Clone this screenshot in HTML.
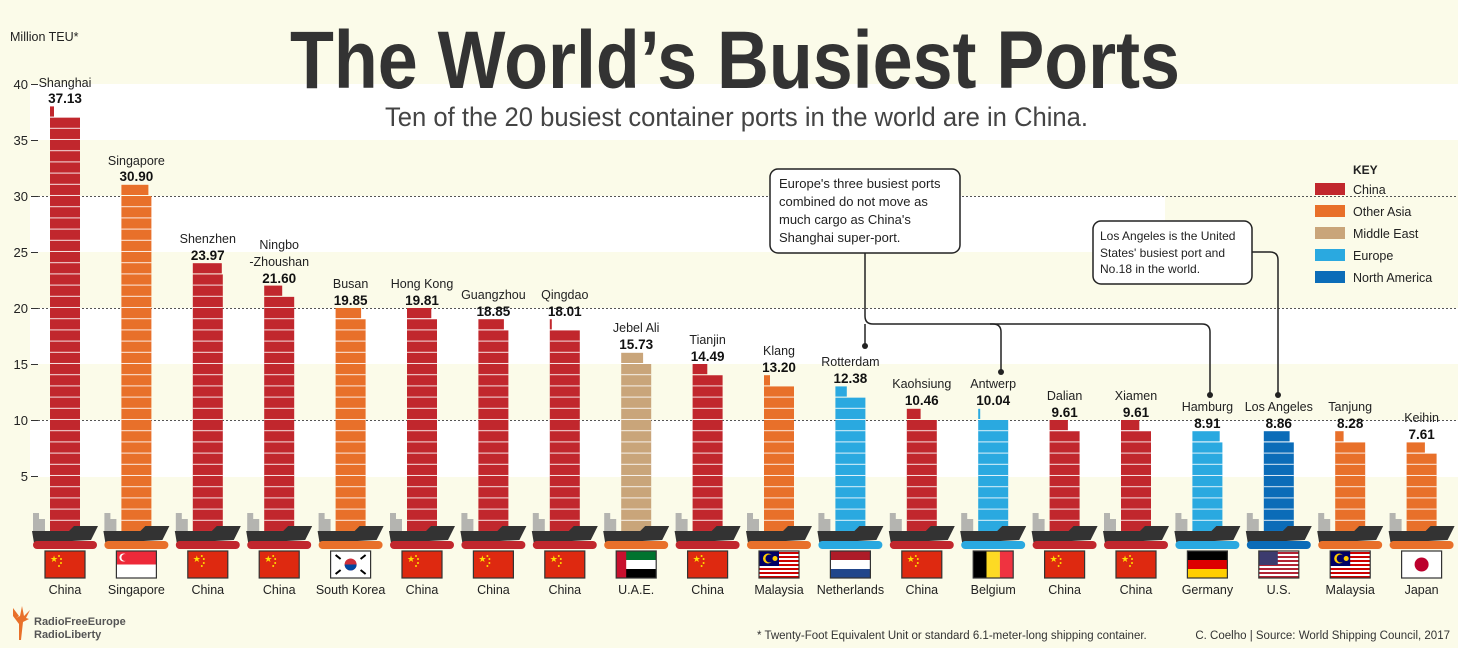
<!DOCTYPE html>
<html><head><meta charset="utf-8"><style>
html,body{margin:0;padding:0;background:#fbfbe9;}
svg{display:block;font-family:"Liberation Sans",sans-serif;}
</style></head><body>
<svg width="1458" height="648" viewBox="0 0 1458 648" xmlns="http://www.w3.org/2000/svg">
<defs>
<pattern id="st" patternUnits="userSpaceOnUse" width="40" height="11.2" y="532">
<rect x="0" y="10.2" width="40" height="1.2" fill="#fff" opacity="0.85"/>
</pattern>
<clipPath id="bc">
<rect x="50" y="117.6" width="30" height="414.4"/>
<rect x="121.4" y="196" width="30" height="336"/>
<rect x="192.8" y="274.4" width="30" height="257.6"/>
<rect x="264.2" y="296.8" width="30" height="235.2"/>
<rect x="335.6" y="319.2" width="30" height="212.8"/>
<rect x="407" y="319.2" width="30" height="212.8"/>
<rect x="478.4" y="330.4" width="30" height="201.6"/>
<rect x="549.8" y="330.4" width="30" height="201.6"/>
<rect x="621.2" y="364" width="30" height="168"/>
<rect x="692.6" y="375.2" width="30" height="156.8"/>
<rect x="764" y="386.4" width="30" height="145.6"/>
<rect x="835.4" y="397.6" width="30" height="134.4"/>
<rect x="906.8" y="420" width="30" height="112"/>
<rect x="978.2" y="420" width="30" height="112"/>
<rect x="1049.6" y="431.2" width="30" height="100.8"/>
<rect x="1121" y="431.2" width="30" height="100.8"/>
<rect x="1192.4" y="442.4" width="30" height="89.6"/>
<rect x="1263.8" y="442.4" width="30" height="89.6"/>
<rect x="1335.2" y="442.4" width="30" height="89.6"/>
<rect x="1406.6" y="453.6" width="30" height="78.4"/>
</clipPath>
<g id="ship">
<path d="M-32,513 h6 v6 h6 v13 h-12z" fill="#b4b4b0"/>
<path d="M-33,531 L4,531 L9,526 L33,526 L26,540 L-31,543 Z" fill="#333"/>
</g>
<g id="cn"><rect x="-20" y="551" width="40" height="27" fill="#de2910" stroke="#333" stroke-width="1.2"/><text x="-15" y="562" font-size="9" fill="#ffde00">★</text><circle cx="-6" cy="556" r="1" fill="#ffde00"/><circle cx="-4" cy="559" r="1" fill="#ffde00"/><circle cx="-4" cy="563" r="1" fill="#ffde00"/><circle cx="-6" cy="566" r="1" fill="#ffde00"/></g>
<g id="sg"><rect x="-20" y="551" width="40" height="13.5" fill="#ed2939"/><rect x="-20" y="564.5" width="40" height="13.5" fill="#fff"/><circle cx="-13" cy="557.5" r="4" fill="#fff"/><circle cx="-11.5" cy="557.5" r="3.5" fill="#ed2939"/><rect x="-20" y="551" width="40" height="27" fill="none" stroke="#333" stroke-width="1.2"/></g>
<g id="kr"><rect x="-20" y="551" width="40" height="27" fill="#fff" stroke="#333" stroke-width="1.2"/><circle cx="0" cy="564.5" r="6" fill="#cd2e3a"/><path d="M-6,564.5 a6,6 0 0 0 12,0z" fill="#0047a0"/><path d="M-15,555 l5,4 M-15,574 l5,-4 M15,555 l-5,4 M15,574 l-5,-4" stroke="#000" stroke-width="2"/></g>
<g id="ae"><rect x="-20" y="551" width="40" height="9" fill="#00732f"/><rect x="-20" y="560" width="40" height="9" fill="#fff"/><rect x="-20" y="569" width="40" height="9" fill="#000"/><rect x="-20" y="551" width="10" height="27" fill="#c8102e"/><rect x="-20" y="551" width="40" height="27" fill="none" stroke="#333" stroke-width="1.2"/></g>
<g id="my"><rect x="-20" y="551" width="40" height="27" fill="#fff"/><path d="M-20,553 h40 M-20,557 h40 M-20,561 h40 M-20,565 h40 M-20,569 h40 M-20,573 h40 M-20,577 h40" stroke="#cc0001" stroke-width="2"/><rect x="-20" y="551" width="20" height="15" fill="#010066"/><circle cx="-11" cy="558.5" r="5" fill="#fc0"/><circle cx="-9.5" cy="558.5" r="4" fill="#010066"/><circle cx="-4" cy="558.5" r="2.5" fill="#fc0"/><rect x="-20" y="551" width="40" height="27" fill="none" stroke="#333" stroke-width="1.2"/></g>
<g id="nl"><rect x="-20" y="551" width="40" height="9" fill="#ae1c28"/><rect x="-20" y="560" width="40" height="9" fill="#fff"/><rect x="-20" y="569" width="40" height="9" fill="#21468b"/><rect x="-20" y="551" width="40" height="27" fill="none" stroke="#333" stroke-width="1.2"/></g>
<g id="be"><rect x="-20" y="551" width="13.3" height="27" fill="#000"/><rect x="-6.7" y="551" width="13.4" height="27" fill="#fdda24"/><rect x="6.7" y="551" width="13.3" height="27" fill="#ef3340"/><rect x="-20" y="551" width="40" height="27" fill="none" stroke="#333" stroke-width="1.2"/></g>
<g id="de"><rect x="-20" y="551" width="40" height="9" fill="#000"/><rect x="-20" y="560" width="40" height="9" fill="#dd0000"/><rect x="-20" y="569" width="40" height="9" fill="#ffce00"/><rect x="-20" y="551" width="40" height="27" fill="none" stroke="#333" stroke-width="1.2"/></g>
<g id="us"><rect x="-20" y="551" width="40" height="27" fill="#fff"/><path d="M-20,553 h40 M-20,557 h40 M-20,561 h40 M-20,565 h40 M-20,569 h40 M-20,573 h40 M-20,577 h40" stroke="#b22234" stroke-width="2"/><rect x="-20" y="551" width="19" height="14" fill="#3c3b6e"/><rect x="-20" y="551" width="40" height="27" fill="none" stroke="#333" stroke-width="1.2"/></g>
<g id="jp"><rect x="-20" y="551" width="40" height="27" fill="#fff" stroke="#333" stroke-width="1.2"/><circle cx="0" cy="564.5" r="7" fill="#bc002d"/></g>
</defs>

<rect x="0" y="0" width="1458" height="648" fill="#fbfbe9"/>
<rect x="30" y="84" width="1428" height="56" fill="#fff"/>
<rect x="30" y="196" width="1135" height="56" fill="#fff"/>
<rect x="30" y="308" width="1428" height="56" fill="#fff"/>
<rect x="30" y="420" width="1428" height="57" fill="#fff"/>

<text x="290" y="88" font-size="82" font-weight="bold" fill="#333" textLength="890" lengthAdjust="spacingAndGlyphs">The World’s Busiest Ports</text>
<text x="385" y="126" font-size="27" fill="#444" textLength="703" lengthAdjust="spacingAndGlyphs">Ten of the 20 busiest container ports in the world are in China.</text>
<text x="10" y="41" font-size="12.5" fill="#222">Million TEU*</text>

<g font-size="13" fill="#222" text-anchor="end">
<text x="28" y="89">40</text><text x="28" y="145">35</text><text x="28" y="201">30</text><text x="28" y="257">25</text>
<text x="28" y="313">20</text><text x="28" y="369">15</text><text x="28" y="425">10</text><text x="28" y="481">5</text>
</g>
<g stroke="#333" stroke-width="1">
<path d="M31,84.5h7 M31,140.5h7 M31,196.5h7 M31,252.5h7 M31,308.5h7 M31,364.5h7 M31,420.5h7 M31,476.5h7"/>
</g>
<g stroke="#555" stroke-width="1" stroke-dasharray="2,2">
<path d="M38,196.5H1458 M38,308.5H1458 M38,420.5H1458"/>
</g>

<g fill="none" stroke="#222" stroke-width="1.5">
<path d="M865,253 V316 q0,8 8,8 H993 q8,0 8,8 V372"/>
<path d="M990,324 H1202 q8,0 8,8 V395"/>
<path d="M865,324 V346"/>
<path d="M1252,252 H1270 q8,0 8,8 V395"/>
</g>
<g fill="#222"><circle cx="865" cy="346" r="3"/><circle cx="1001" cy="372" r="3"/><circle cx="1210" cy="395" r="3"/><circle cx="1278" cy="395" r="3"/></g>
<rect x="770" y="169" width="190" height="84" rx="8" fill="#fff" stroke="#222" stroke-width="1.5"/>
<g font-size="13" fill="#222"><text x="779" y="188">Europe's three busiest ports</text><text x="779" y="206">combined do not move as</text><text x="779" y="224">much cargo as China's</text><text x="779" y="242">Shanghai super-port.</text></g>
<rect x="1093" y="221" width="159" height="63" rx="8" fill="#fff" stroke="#222" stroke-width="1.5"/>
<g font-size="12" fill="#222"><text x="1100" y="240">Los Angeles is the United</text><text x="1100" y="257">States' busiest port and</text><text x="1100" y="273">No.18 in the world.</text></g>

<text x="1353" y="174" font-size="12" font-weight="bold" fill="#222">KEY</text>
<g font-size="12.5" fill="#222">
<rect x="1315" y="183" width="30" height="12" fill="#c1272d"/><text x="1353" y="194">China</text>
<rect x="1315" y="205" width="30" height="12" fill="#e8702a"/><text x="1353" y="216">Other Asia</text>
<rect x="1315" y="227" width="30" height="12" fill="#c9a57a"/><text x="1353" y="238">Middle East</text>
<rect x="1315" y="249" width="30" height="12" fill="#2aa9e0"/><text x="1353" y="260">Europe</text>
<rect x="1315" y="271" width="30" height="12" fill="#0b6cb8"/><text x="1353" y="282">North America</text>
</g>

<g>
<rect x="50" y="117.6" width="30" height="414.4" fill="#c1272d"/><rect x="50" y="106.4" width="4" height="10.2" fill="#c1272d"/>
<rect x="121.4" y="196" width="30" height="336" fill="#e8702a"/><rect x="121.4" y="184.8" width="27" height="10.2" fill="#e8702a"/>
<rect x="192.8" y="274.4" width="30" height="257.6" fill="#c1272d"/><rect x="192.8" y="263.2" width="29" height="10.2" fill="#c1272d"/>
<rect x="264.2" y="296.8" width="30" height="235.2" fill="#c1272d"/><rect x="264.2" y="285.6" width="18" height="10.2" fill="#c1272d"/>
<rect x="335.6" y="319.2" width="30" height="212.8" fill="#e8702a"/><rect x="335.6" y="308" width="25.5" height="10.2" fill="#e8702a"/>
<rect x="407" y="319.2" width="30" height="212.8" fill="#c1272d"/><rect x="407" y="308" width="24.3" height="10.2" fill="#c1272d"/>
<rect x="478.4" y="330.4" width="30" height="201.6" fill="#c1272d"/><rect x="478.4" y="319.2" width="25.5" height="10.2" fill="#c1272d"/>
<rect x="549.8" y="330.4" width="30" height="201.6" fill="#c1272d"/><rect x="549.8" y="319.2" width="2" height="10.2" fill="#c1272d"/>
<rect x="621.2" y="364" width="30" height="168" fill="#c9a57a"/><rect x="621.2" y="352.8" width="21.9" height="10.2" fill="#c9a57a"/>
<rect x="692.6" y="375.2" width="30" height="156.8" fill="#c1272d"/><rect x="692.6" y="364" width="14.7" height="10.2" fill="#c1272d"/>
<rect x="764" y="386.4" width="30" height="145.6" fill="#e8702a"/><rect x="764" y="375.2" width="6" height="10.2" fill="#e8702a"/>
<rect x="835.4" y="397.6" width="30" height="134.4" fill="#2aa9e0"/><rect x="835.4" y="386.4" width="11.4" height="10.2" fill="#2aa9e0"/>
<rect x="906.8" y="420" width="30" height="112" fill="#c1272d"/><rect x="906.8" y="408.8" width="13.8" height="10.2" fill="#c1272d"/>
<rect x="978.2" y="420" width="30" height="112" fill="#2aa9e0"/><rect x="978.2" y="408.8" width="2" height="10.2" fill="#2aa9e0"/>
<rect x="1049.6" y="431.2" width="30" height="100.8" fill="#c1272d"/><rect x="1049.6" y="420" width="18.3" height="10.2" fill="#c1272d"/>
<rect x="1121" y="431.2" width="30" height="100.8" fill="#c1272d"/><rect x="1121" y="420" width="18.3" height="10.2" fill="#c1272d"/>
<rect x="1192.4" y="442.4" width="30" height="89.6" fill="#2aa9e0"/><rect x="1192.4" y="431.2" width="27.3" height="10.2" fill="#2aa9e0"/>
<rect x="1263.8" y="442.4" width="30" height="89.6" fill="#0b6cb8"/><rect x="1263.8" y="431.2" width="25.8" height="10.2" fill="#0b6cb8"/>
<rect x="1335.2" y="442.4" width="30" height="89.6" fill="#e8702a"/><rect x="1335.2" y="431.2" width="8.4" height="10.2" fill="#e8702a"/>
<rect x="1406.6" y="453.6" width="30" height="78.4" fill="#e8702a"/><rect x="1406.6" y="442.4" width="18.3" height="10.2" fill="#e8702a"/>
</g>
<rect x="40" y="100" width="1418" height="432" fill="url(#st)" clip-path="url(#bc)"/>

<g font-size="12.5" fill="#222" text-anchor="middle">
<text x="65" y="87">Shanghai</text><text x="136.4" y="165">Singapore</text><text x="207.8" y="243">Shenzhen</text>
<text x="279.2" y="249">Ningbo</text><text x="279.2" y="266">-Zhoushan</text>
<text x="350.6" y="288">Busan</text><text x="422" y="288">Hong Kong</text><text x="493.4" y="299">Guangzhou</text><text x="564.8" y="299">Qingdao</text>
<text x="636.2" y="332">Jebel Ali</text><text x="707.6" y="344">Tianjin</text><text x="779" y="355">Klang</text><text x="850.4" y="366">Rotterdam</text>
<text x="921.8" y="388">Kaohsiung</text><text x="993.2" y="388">Antwerp</text><text x="1064.6" y="400">Dalian</text><text x="1136" y="400">Xiamen</text>
<text x="1207.4" y="411">Hamburg</text><text x="1278.8" y="411">Los Angeles</text><text x="1350.2" y="411">Tanjung</text><text x="1421.6" y="422">Keihin</text>
</g>
<g font-size="13.5" font-weight="bold" fill="#111" text-anchor="middle">
<text x="65" y="103">37.13</text><text x="136.4" y="181">30.90</text><text x="207.8" y="260">23.97</text><text x="279.2" y="283">21.60</text>
<text x="350.6" y="305">19.85</text><text x="422" y="305">19.81</text><text x="493.4" y="316">18.85</text><text x="564.8" y="316">18.01</text>
<text x="636.2" y="349">15.73</text><text x="707.6" y="361">14.49</text><text x="779" y="372">13.20</text><text x="850.4" y="383">12.38</text>
<text x="921.8" y="405">10.46</text><text x="993.2" y="405">10.04</text><text x="1064.6" y="417">9.61</text><text x="1136" y="417">9.61</text>
<text x="1207.4" y="428">8.91</text><text x="1278.8" y="428">8.86</text><text x="1350.2" y="428">8.28</text><text x="1421.6" y="439">7.61</text>
</g>

<g transform="translate(65,0)"><use href="#ship"/><rect x="-32" y="541" width="64" height="8" rx="4" fill="#c1272d"/><use href="#cn"/></g>
<g transform="translate(136.4,0)"><use href="#ship"/><rect x="-32" y="541" width="64" height="8" rx="4" fill="#e8702a"/><use href="#sg"/></g>
<g transform="translate(207.8,0)"><use href="#ship"/><rect x="-32" y="541" width="64" height="8" rx="4" fill="#c1272d"/><use href="#cn"/></g>
<g transform="translate(279.2,0)"><use href="#ship"/><rect x="-32" y="541" width="64" height="8" rx="4" fill="#c1272d"/><use href="#cn"/></g>
<g transform="translate(350.6,0)"><use href="#ship"/><rect x="-32" y="541" width="64" height="8" rx="4" fill="#e8702a"/><use href="#kr"/></g>
<g transform="translate(422,0)"><use href="#ship"/><rect x="-32" y="541" width="64" height="8" rx="4" fill="#c1272d"/><use href="#cn"/></g>
<g transform="translate(493.4,0)"><use href="#ship"/><rect x="-32" y="541" width="64" height="8" rx="4" fill="#c1272d"/><use href="#cn"/></g>
<g transform="translate(564.8,0)"><use href="#ship"/><rect x="-32" y="541" width="64" height="8" rx="4" fill="#c1272d"/><use href="#cn"/></g>
<g transform="translate(636.2,0)"><use href="#ship"/><rect x="-32" y="541" width="64" height="8" rx="4" fill="#e8702a"/><use href="#ae"/></g>
<g transform="translate(707.6,0)"><use href="#ship"/><rect x="-32" y="541" width="64" height="8" rx="4" fill="#c1272d"/><use href="#cn"/></g>
<g transform="translate(779,0)"><use href="#ship"/><rect x="-32" y="541" width="64" height="8" rx="4" fill="#e8702a"/><use href="#my"/></g>
<g transform="translate(850.4,0)"><use href="#ship"/><rect x="-32" y="541" width="64" height="8" rx="4" fill="#2aa9e0"/><use href="#nl"/></g>
<g transform="translate(921.8,0)"><use href="#ship"/><rect x="-32" y="541" width="64" height="8" rx="4" fill="#c1272d"/><use href="#cn"/></g>
<g transform="translate(993.2,0)"><use href="#ship"/><rect x="-32" y="541" width="64" height="8" rx="4" fill="#2aa9e0"/><use href="#be"/></g>
<g transform="translate(1064.6,0)"><use href="#ship"/><rect x="-32" y="541" width="64" height="8" rx="4" fill="#c1272d"/><use href="#cn"/></g>
<g transform="translate(1136,0)"><use href="#ship"/><rect x="-32" y="541" width="64" height="8" rx="4" fill="#c1272d"/><use href="#cn"/></g>
<g transform="translate(1207.4,0)"><use href="#ship"/><rect x="-32" y="541" width="64" height="8" rx="4" fill="#2aa9e0"/><use href="#de"/></g>
<g transform="translate(1278.8,0)"><use href="#ship"/><rect x="-32" y="541" width="64" height="8" rx="4" fill="#0b6cb8"/><use href="#us"/></g>
<g transform="translate(1350.2,0)"><use href="#ship"/><rect x="-32" y="541" width="64" height="8" rx="4" fill="#e8702a"/><use href="#my"/></g>
<g transform="translate(1421.6,0)"><use href="#ship"/><rect x="-32" y="541" width="64" height="8" rx="4" fill="#e8702a"/><use href="#jp"/></g>

<g font-size="12.5" fill="#222" text-anchor="middle">
<text x="65" y="594">China</text><text x="136.4" y="594">Singapore</text><text x="207.8" y="594">China</text><text x="279.2" y="594">China</text>
<text x="350.6" y="594">South Korea</text><text x="422" y="594">China</text><text x="493.4" y="594">China</text><text x="564.8" y="594">China</text>
<text x="636.2" y="594">U.A.E.</text><text x="707.6" y="594">China</text><text x="779" y="594">Malaysia</text><text x="850.4" y="594">Netherlands</text>
<text x="921.8" y="594">China</text><text x="993.2" y="594">Belgium</text><text x="1064.6" y="594">China</text><text x="1136" y="594">China</text>
<text x="1207.4" y="594">Germany</text><text x="1278.8" y="594">U.S.</text><text x="1350.2" y="594">Malaysia</text><text x="1421.6" y="594">Japan</text>
</g>

<path d="M13,608 l6,8 l-3,2 l4,-2 l2,-10 l2,10 l6,-6 l-4,8 l3,1 l-6,3 l-2,18 l-2,0 l0,-16 l-6,-8z" fill="#e8702a"/>
<g font-size="11" font-weight="bold" fill="#555"><text x="34" y="625">RadioFreeEurope</text><text x="34" y="638">RadioLiberty</text></g>
<text x="757" y="639" font-size="11.5" fill="#333">* Twenty-Foot Equivalent Unit or standard 6.1-meter-long shipping container.</text>
<text x="1450" y="639" font-size="11.5" fill="#333" text-anchor="end">C. Coelho | Source: World Shipping Council, 2017</text>
</svg>
</body></html>
